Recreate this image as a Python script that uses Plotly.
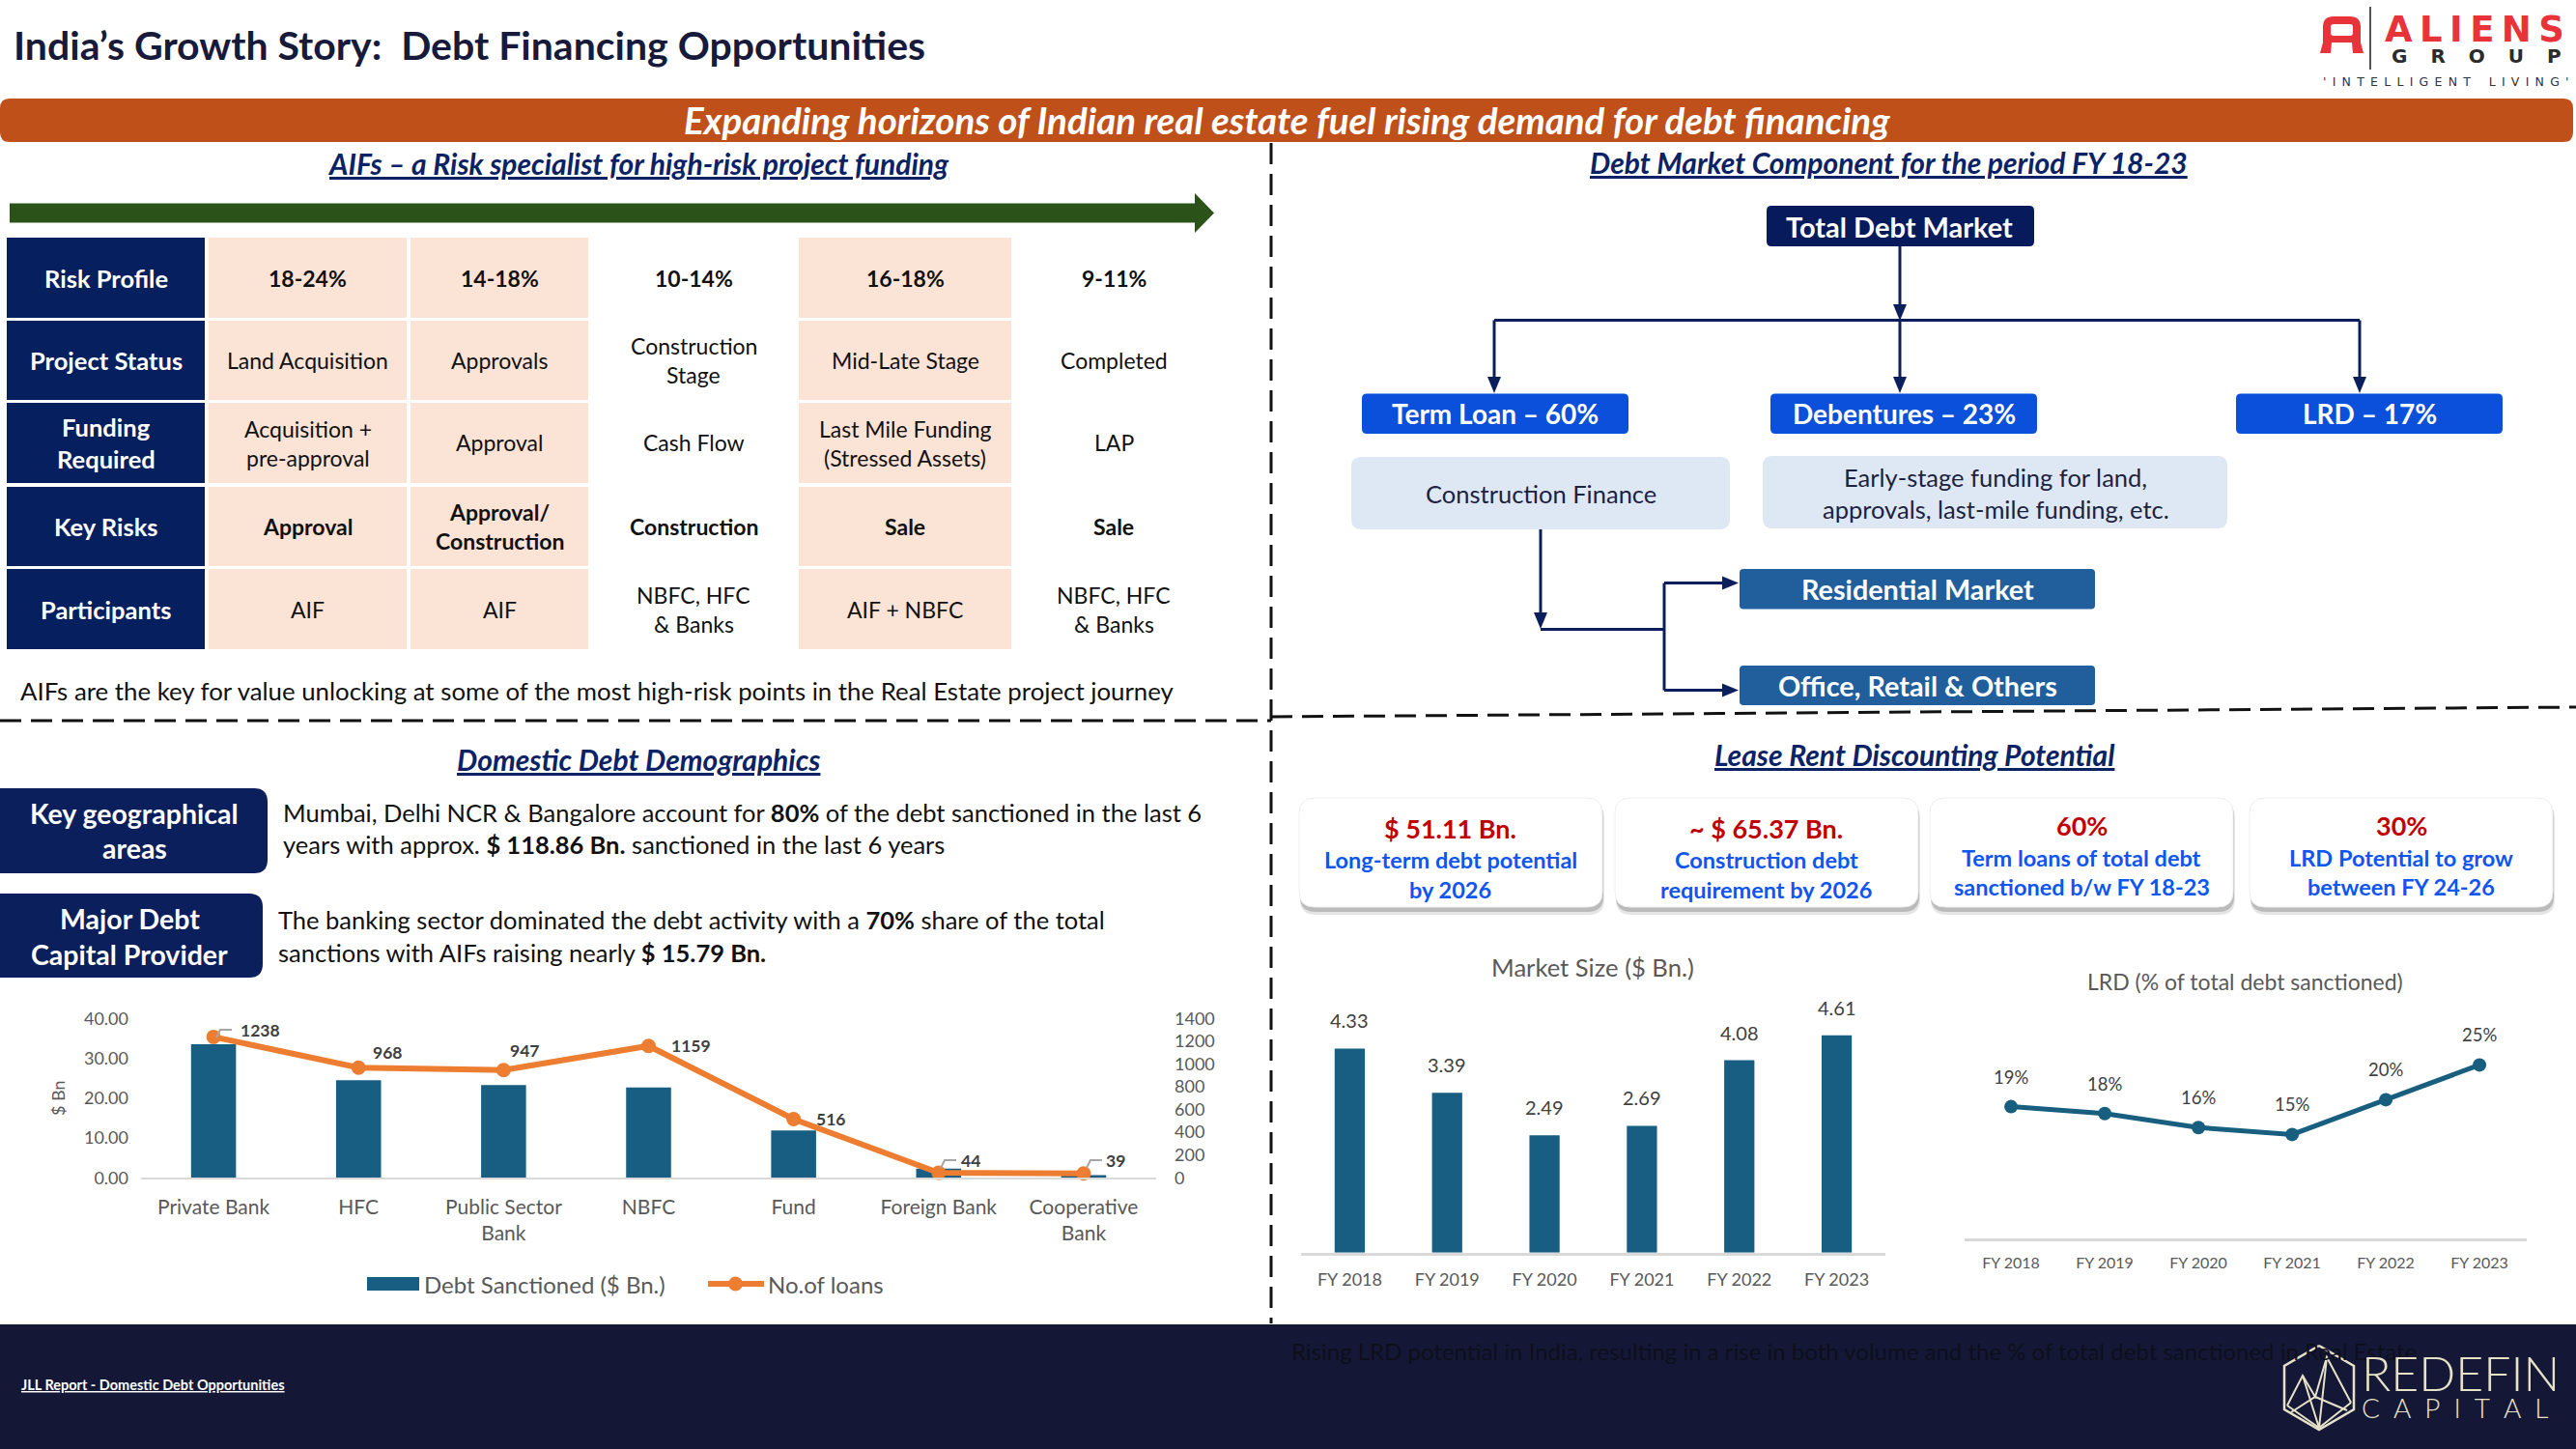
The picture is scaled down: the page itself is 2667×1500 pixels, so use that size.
import plotly.graph_objects as go

W, H = 2667, 1500
FONT = "Lato, 'Open Sans', sans-serif"
DEJAVU = "'DejaVu Sans', sans-serif"

# ---------------- data ----------------
table_rows = ["Risk Profile", "Project Status", "Funding<br>Required", "Key Risks", "Participants"]
risk_profile = ["18-24%", "14-18%", "10-14%", "16-18%", "9-11%"]
project_status = ["Land Acquisition", "Approvals", "Construction<br>Stage", "Mid-Late Stage", "Completed"]
funding_required = ["Acquisition +<br>pre-approval", "Approval", "Cash Flow",
                    "Last Mile Funding<br>(Stressed Assets)", "LAP"]
key_risks = ["Approval", "Approval/<br>Construction", "Construction", "Sale", "Sale"]
participants = ["AIF", "AIF", "NBFC, HFC<br>& Banks", "AIF + NBFC", "NBFC, HFC<br>& Banks"]

debt_components = ["Term Loan – 60%", "Debentures – 23%", "LRD – 17%"]
component_uses = ["Construction Finance", "Early-stage funding for land,<br>approvals, last-mile funding, etc."]
markets = ["Residential Market", "Office, Retail & Others"]

lenders = ["Private Bank", "HFC", "Public Sector<br>Bank", "NBFC", "Fund", "Foreign Bank", "Cooperative<br>Bank"]
debt_sanctioned = [33.5, 24.5, 23.3, 22.7, 11.9, 2.3, 0.7]
no_of_loans = [1238, 968, 947, 1159, 516, 44, 39]

fiscal_years = ["FY 2018", "FY 2019", "FY 2020", "FY 2021", "FY 2022", "FY 2023"]
market_size = [4.33, 3.39, 2.49, 2.69, 4.08, 4.61]
lrd_share = [19, 18, 16, 15, 20, 25]

card_values = ["$ 51.11 Bn.", "~ $ 65.37 Bn.", "60%", "30%"]
card_texts = ["Long-term debt potential<br>by 2026", "Construction debt<br>requirement by 2026",
              "Term loans of total debt<br>sanctioned b/w FY 18-23", "LRD Potential to grow<br>between FY 24-26"]

# ---------------- colours ----------------
NAVY = "#06205F"
PEACH = "#FBE3D6"
BLUE = "#0B50DA"
MIDBLUE = "#215E9C"
LIGHTBOX = "#DEE8F5"
BAR = "#175E82"
ORANGE = "#ED7D31"
GRAY = "#595959"
LINE = "#0B1F5C"
SUB = "#0B2265"


def X(x):
    return x / W


def Y(y):
    return 1 - y / H


shapes, annotations = [], []


def rect(x0, y0, x1, y1, fill, layer="above"):
    shapes.append(dict(type="rect", xref="paper", yref="paper", x0=X(x0), x1=X(x1), y0=Y(y1), y1=Y(y0),
                       fillcolor=fill, layer=layer, line=dict(width=0)))


def rrect(x0, y0, x1, y1, r, fill, line_color=None, lw=0, layer="above"):
    rx, ry = r / W, r / H
    a, b, c, d = X(x0), X(x1), Y(y0), Y(y1)
    path = (f"M {a+rx:.6f},{c:.6f} L {b-rx:.6f},{c:.6f} Q {b:.6f},{c:.6f} {b:.6f},{c-ry:.6f} "
            f"L {b:.6f},{d+ry:.6f} Q {b:.6f},{d:.6f} {b-rx:.6f},{d:.6f} L {a+rx:.6f},{d:.6f} "
            f"Q {a:.6f},{d:.6f} {a:.6f},{d+ry:.6f} L {a:.6f},{c-ry:.6f} Q {a:.6f},{c:.6f} {a+rx:.6f},{c:.6f} Z")
    shapes.append(dict(type="path", xref="paper", yref="paper", path=path, fillcolor=fill, layer=layer,
                       line=dict(width=lw, color=line_color or "rgba(0,0,0,0)")))


def seg(points, color, width, dash="solid", layer="above"):
    path = "M " + " L ".join(f"{X(x):.6f},{Y(y):.6f}" for x, y in points)
    shapes.append(dict(type="path", xref="paper", yref="paper", path=path, layer=layer,
                       fillcolor="rgba(0,0,0,0)", line=dict(color=color, width=width, dash=dash)))


def poly(points, fill, layer="above"):
    path = "M " + " L ".join(f"{X(x):.6f},{Y(y):.6f}" for x, y in points) + " Z"
    shapes.append(dict(type="path", xref="paper", yref="paper", path=path, layer=layer,
                       fillcolor=fill, line=dict(width=0)))


def dline(x0, y0, x1, y1, dash="22px,10px", width=3, color="#111111"):
    shapes.append(dict(type="line", xref="paper", yref="paper", x0=X(x0), y0=Y(y0), x1=X(x1), y1=Y(y1),
                       line=dict(color=color, width=width, dash=dash), layer="above"))


def txt(x, y, s, size, color="#000000", weight="normal", style="normal", xanchor="center",
        yanchor="middle", underline=False, family=FONT):
    font = dict(size=size, color=color, family=family, weight=weight, style=style)
    if underline:
        font["lineposition"] = "under"
    annotations.append(dict(xref="paper", yref="paper", x=X(x), y=Y(y), text=s, showarrow=False,
                            font=font, xanchor=xanchor, yanchor=yanchor, borderpad=0,
                            align="left" if xanchor == "left" else "center"))


def mtxt(x, y, s, size, spacing, **kw):
    lines = s.split("<br>")
    n = len(lines)
    for i, ln in enumerate(lines):
        txt(x, y + (i - (n - 1) / 2) * spacing, ln, size, **kw)


def arrow_down(x, tip, color=LINE):
    poly([(x - 7, tip - 17), (x + 7, tip - 17), (x, tip)], color)


def arrow_right(tip, y, color=LINE):
    poly([(tip - 17, y - 7), (tip - 17, y + 7), (tip, y)], color)


# ---------------- header ----------------
txt(13, 47, "India’s Growth Story:  Debt Financing Opportunities", 41, "#171A3B", weight="bold", xanchor="left")

# Aliens group logo
LOGORED = "#E8333A"
shapes.append(dict(type="path", xref="paper", yref="paper", fillcolor=LOGORED, line=dict(width=0), layer="above",
                   path=(f"M {X(2402)},{Y(55)} L {X(2405)},{Y(44)} L {X(2405)},{Y(28)} Q {X(2405)},{Y(17)} {X(2416)},{Y(17)} "
                         f"L {X(2433)},{Y(17)} Q {X(2444)},{Y(17)} {X(2444)},{Y(28)} L {X(2444)},{Y(44)} "
                         f"L {X(2447)},{Y(55)} L {X(2436)},{Y(55)} L {X(2435)},{Y(44)} L {X(2414)},{Y(44)} "
                         f"L {X(2413)},{Y(55)} Z")))
rrect(2413, 25, 2436, 37, 3, "white")
seg([(2454, 7), (2454, 72)], "#555555", 2)
txt(2562, 31, "\u2009".join("ALIENS"), 37, LOGORED, weight="bold", family=DEJAVU)
txt(2564, 58, "\u2003\u2009".join("GROUP"), 20, "#2B2B2B", weight="bold", family=DEJAVU)
txt(2532, 84, "\u2002".join("'INTELLIGENT") + "\u2003\u2002" + "\u2002".join("LIVING'"), 12.5, "#333333",
    family=DEJAVU)

# orange banner
rrect(0, 102, 2664, 147, 10, "#C0501A")
txt(1332, 124, "Expanding horizons of Indian real estate fuel rising demand for debt financing", 38.5,
    "white", weight="bold", style="italic")

# dashed separators
dline(1316, 148, 1316, 1370)
dline(0, 746, 1316, 746)
dline(1316, 742, 2667, 732)

# ---------------- top-left: AIF table ----------------
txt(661, 169, "AIFs – a Risk specialist for high-risk project funding", 30, SUB, weight="bold",
    style="italic", underline=True)
poly([(10, 210.5), (1237, 210.5), (1237, 200), (1257, 220.5), (1237, 241), (1237, 230.5), (10, 230.5)], "#2B5219")

col_x = [(7, 212), (216, 421), (425, 609), (612, 825), (827, 1047), (1050, 1256)]
row_y = [(246, 329), (332, 414), (417, 500), (504, 586), (589, 672)]
col_fill = [PEACH, PEACH, None, PEACH, None]
table_data = [risk_profile, project_status, funding_required, key_risks, participants]
bold_rows = [True, False, False, True, False]
for r, (y0, y1) in enumerate(row_y):
    yc = (y0 + y1) / 2
    hx0, hx1 = col_x[0]
    rect(hx0, y0, hx1, y1, NAVY)
    mtxt((hx0 + hx1) / 2, yc, table_rows[r], 25.5, 34, color="white", weight="bold")
    for c in range(5):
        x0, x1 = col_x[c + 1]
        if col_fill[c]:
            rect(x0, y0, x1, y1, col_fill[c])
        mtxt((x0 + x1) / 2, yc, table_data[r][c], 23, 30, color="#111111",
             weight="bold" if bold_rows[r] else "normal")

txt(20, 715, "AIFs are the key for value unlocking at some of the most high-risk points in the Real Estate project journey",
    25.8, "#111111", xanchor="left")

# ---------------- top-right: debt market tree ----------------
txt(1955, 168, "Debt Market Component for the period FY 18-23", 30, SUB, weight="bold",
    style="italic", underline=True)
rrect(1829, 213, 2106, 255, 5, "#071A5C")
txt(1967, 234, "Total Debt Market", 29, "white", weight="bold")
seg([(1967, 255), (1967, 322)], LINE, 3)
arrow_down(1967, 332)
seg([(1547, 331.5), (2443, 331.5)], LINE, 3)
tree_x = [1547, 1967, 2443]
box_x = [(1410, 1686), (1833, 2109), (2315, 2591)]
for cx, (bx0, bx1), label in zip(tree_x, box_x, debt_components):
    seg([(cx, 331.5), (cx, 396)], LINE, 3)
    arrow_down(cx, 407)
    rrect(bx0, 407.5, bx1, 449, 5, BLUE)
    txt((bx0 + bx1) / 2, 428, label, 28, "white", weight="bold")

rrect(1399, 473, 1791, 548, 10, LIGHTBOX)
mtxt(1595, 511, component_uses[0], 25.5, 33, color="#1C2340")
rrect(1825, 472, 2306, 547, 10, LIGHTBOX)
mtxt(2066, 510.5, component_uses[1], 25.5, 33, color="#1C2340")

seg([(1595, 548), (1595, 640)], LINE, 3)
arrow_down(1595, 651)
seg([(1595, 651.5), (1723, 651.5)], LINE, 3)
seg([(1723, 603.6), (1723, 714.6)], LINE, 3)
for yy in [603.6, 714.6]:
    seg([(1723, yy), (1790, yy)], LINE, 3)
    arrow_right(1800, yy)
for (yy0, yy1), label in zip([(589, 630.5), (689, 730)], markets):
    rrect(1801, yy0, 2169, yy1, 4, MIDBLUE)
    txt(1985, (yy0 + yy1) / 2, label, 28.8, "white", weight="bold")

# ---------------- bottom-left: domestic debt demographics ----------------
txt(661, 786, "Domestic Debt Demographics", 30, SUB, weight="bold", style="italic", underline=True)
rrect(-20, 816, 277, 904, 14, "#0A1F5C")
mtxt(139, 860, "Key geographical<br>areas", 28.5, 36, color="white", weight="bold")
rrect(-20, 925, 272, 1012, 14, "#0A1F5C")
mtxt(134, 969, "Major Debt<br>Capital Provider", 28.5, 37, color="white", weight="bold")
txt(292, 841, "Mumbai, Delhi NCR & Bangalore account for <b>80%</b> of the debt sanctioned in the last 6", 25.5,
    "#111111", xanchor="left")
txt(292, 874, "years with approx. <b>$ 118.86 Bn.</b> sanctioned in the last 6 years", 25.5, "#111111", xanchor="left")
txt(287, 952, "The banking sector dominated the debt activity with a <b>70%</b> share of the total", 25.5,
    "#111111", xanchor="left")
txt(287, 986, "sanctions with AIFs raising nearly <b>$ 15.79 Bn.</b>", 25.5, "#111111", xanchor="left")

# custom legend for the combo chart
rect(380, 1322, 434, 1336, BAR)
txt(438, 1329, "Debt Sanctioned ($ Bn.)", 24, GRAY, xanchor="left")
seg([(733, 1329), (791, 1329)], ORANGE, 6)
shapes.append(dict(type="circle", xref="paper", yref="paper", x0=X(754), x1=X(769), y0=Y(1336.5), y1=Y(1321.5),
                   fillcolor=ORANGE, line=dict(width=0)))
txt(794, 1329, "No.of loans", 24, GRAY, xanchor="left")

# leader lines of small data labels
for (lx, ly) in [(224, 1066), (974, 1201), (1125, 1201)]:
    seg([(lx, ly + 8), (lx + 4, ly), (lx + 16, ly)], "#A6A6A6", 2)

# ---------------- bottom-right: LRD potential ----------------
txt(1982, 781, "Lease Rent Discounting Potential", 30, SUB, weight="bold", style="italic", underline=True)
card_x = [(1345, 1659), (1672, 1986), (1998, 2312), (2329, 2643)]
for i, (cx0, cx1) in enumerate(card_x):
    rrect(cx0 + 1, 831, cx1 + 2, 947, 16, "rgba(0,0,0,0.10)", layer="below")
    rrect(cx0 + 1, 829, cx1 + 1, 944, 16, "rgba(0,0,0,0.18)", layer="below")
    rrect(cx0, 826, cx1, 939, 16, "white", line_color="#EEEEEE", lw=1, layer="below")
    xc = (cx0 + cx1) / 2
    big = i < 2
    txt(xc, 857 if big else 854, card_values[i], 27, "#C00000", weight="bold")
    lines = card_texts[i].split("<br>")
    y1 = 890 if big else 888
    txt(xc, y1, lines[0], 23.5, "#0F55F0", weight="bold")
    txt(xc, y1 + 30.5, lines[1], 23.5, "#0F55F0", weight="bold")

txt(1649, 1001, "Market Size ($ Bn.)", 25.6, GRAY)
txt(2324, 1016, "LRD (% of total debt sanctioned)", 23, GRAY)

# ---------------- footer ----------------
rect(0, 1371, W, H, "#141836", layer="below")
txt(21, 1433, "JLL Report - Domestic Debt Opportunities", 14.5, "white", weight="bold", xanchor="left", underline=True)
txt(1336, 1398, "Rising LRD potential in India, resulting in a rise in both volume and the % of total debt sanctioned in Real Estate",
    24, "#0E0F1C", xanchor="left")
# Redefin capital logo
LOGO = "#E6E2C8"
hexa = [(2401, 1393), (2437, 1414), (2437, 1459), (2401, 1480), (2365, 1459), (2365, 1414), (2401, 1393)]
seg(hexa, LOGO, 2.5)
seg([(2368, 1455), (2384, 1424), (2397, 1446), (2409, 1405), (2434, 1452)], LOGO, 2)
seg([(2384, 1424), (2401, 1478), (2409, 1405)], LOGO, 2)
seg([(2368, 1455), (2401, 1478), (2434, 1452)], LOGO, 2)
seg([(2372, 1462), (2397, 1446), (2430, 1460)], LOGO, 2)
txt(2444, 1421, "REDEFIN", 50, LOGO, weight=300, xanchor="left")
txt(2444, 1457, "\u2002".join("CAPITAL"), 28, LOGO, weight=300, xanchor="left")

# ---------------- charts ----------------
fig = go.Figure()

fig.add_trace(go.Bar(x=lenders, y=debt_sanctioned, xaxis="x2", yaxis="y2", marker_color=BAR, width=0.31,
                     name="Debt Sanctioned ($ Bn.)", showlegend=False))
fig.add_trace(go.Scatter(x=lenders, y=no_of_loans, xaxis="x2", yaxis="y3", mode="lines+markers",
                         line=dict(color=ORANGE, width=6), marker=dict(size=15, color=ORANGE),
                         name="No.of loans", showlegend=False, cliponaxis=False))
fig.add_trace(go.Bar(x=fiscal_years, y=market_size, xaxis="x3", yaxis="y4", marker_color=BAR, width=0.31,
                     name="Market Size ($ Bn.)", showlegend=False))
fig.add_trace(go.Scatter(x=fiscal_years, y=lrd_share, xaxis="x4", yaxis="y5", mode="lines+markers",
                         line=dict(color="#175E7F", width=5), marker=dict(size=14, color="#175E7F"),
                         name="LRD (% of total debt sanctioned)", showlegend=False, cliponaxis=False))

# data labels tied to data coordinates
loan_offsets = [(48, 7), (30, 16), (22, 20), (44, 0), (38, 0), (33, 13), (33, 13)]
for cat, v, (dx, dy) in zip(lenders, no_of_loans, loan_offsets):
    annotations.append(dict(xref="x2", yref="y3", x=cat, y=v, text=f"<b>{v}</b>", showarrow=False,
                            xshift=dx, yshift=dy, font=dict(size=17.5, color="#404040", family=FONT)))
for fy, v in zip(fiscal_years, market_size):
    annotations.append(dict(xref="x3", yref="y4", x=fy, y=v, text=f"{v:.2f}", showarrow=False,
                            yanchor="bottom", yshift=15, font=dict(size=20, color="#404040", family=FONT)))
for fy, v in zip(fiscal_years, lrd_share):
    annotations.append(dict(xref="x4", yref="y5", x=fy, y=v, text=f"{v}%", showarrow=False,
                            yshift=31, font=dict(size=18.5, color="#404040", family=FONT)))

axis_font = dict(family=FONT, color=GRAY)
fig.update_layout(
    template="none",
    width=W, height=H, autosize=False, margin=dict(l=0, r=0, t=0, b=0, pad=0, autoexpand=False),
    paper_bgcolor="white", plot_bgcolor="rgba(0,0,0,0)", showlegend=False,
    font=dict(family=FONT),
    xaxis2=dict(domain=[X(146), X(1197)], anchor="y2", type="category", showline=True, linecolor="#D9D9D9",
                linewidth=2, showgrid=False, zeroline=False, ticks="", ticklabelstandoff=10, automargin=False,
                tickfont=dict(size=21, **axis_font), fixedrange=True),
    yaxis2=dict(domain=[Y(1219.3), Y(1054.3)], anchor="x2", range=[0, 40], dtick=10, tickformat=".2f",
                showgrid=False, zeroline=False, showline=False, ticks="", ticklabelstandoff=12, automargin=False,
                tickfont=dict(size=18, **axis_font), fixedrange=True,
                title=dict(text="$ Bn", font=dict(size=18, **axis_font), standoff=14)),
    yaxis3=dict(overlaying="y2", side="right", anchor="x2", range=[0, 1400], dtick=200, showgrid=False,
                zeroline=False, showline=False, ticks="", ticklabelstandoff=18, automargin=False,
                tickfont=dict(size=18, **axis_font), fixedrange=True),
    xaxis3=dict(domain=[X(1347), X(1952)], anchor="y4", type="category", showline=True, linecolor="#D9D9D9",
                linewidth=3, showgrid=False, zeroline=False, ticks="", ticklabelstandoff=10, automargin=False,
                tickfont=dict(size=18, **axis_font), fixedrange=True),
    yaxis4=dict(domain=[Y(1296.7), Y(1052.7)], anchor="x3", range=[0, 5], visible=False, fixedrange=True),
    xaxis4=dict(domain=[X(2033.6), X(2615.6)], anchor="y5", type="category", range=[-0.5, 5.5],
                showline=True, linecolor="#D9D9D9", automargin=False,
                linewidth=3, showgrid=False, zeroline=False, ticks="", ticklabelstandoff=8,
                tickfont=dict(size=16, **axis_font), fixedrange=True),
    yaxis5=dict(domain=[Y(1282.4), Y(1066.4)], anchor="x4", range=[0, 30], visible=False, fixedrange=True),
    shapes=shapes,
    annotations=annotations,
)

fig.write_html("out.html", include_plotlyjs=True, full_html=True, config={"displayModeBar": False},
               post_script="document.body.style.margin='0';document.body.style.overflow='hidden';")
